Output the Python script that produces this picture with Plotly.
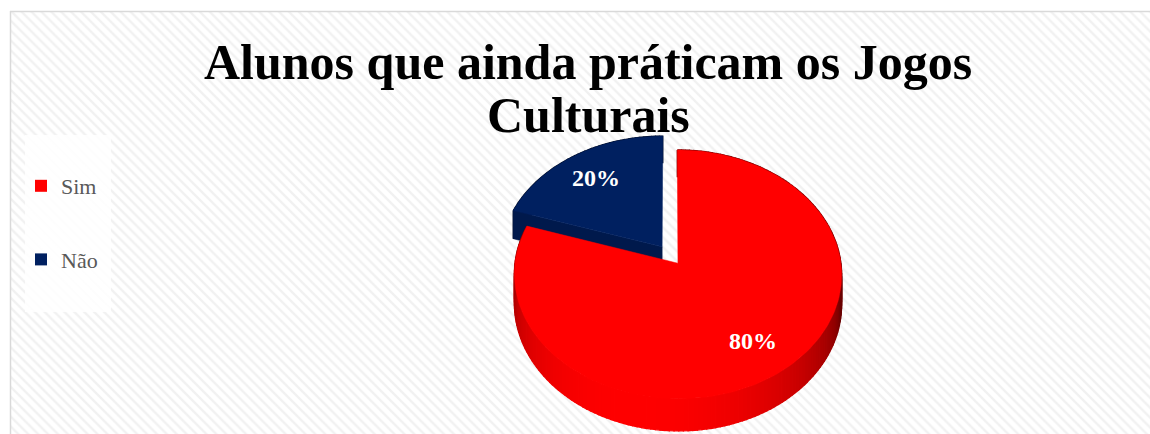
import math
import plotly.graph_objects as go

# ---- data -------------------------------------------------------------
categories = ["Sim", "Não"]
values = [80, 20]
slice_colors = ["#FF0000", "#002060"]
title_lines = ["Alunos que ainda práticam os Jogos", "Culturais"]

# ---- geometry of the tilted (3-D) pie, in pixel units -----------------
W, H = 1150, 434
CX, CY = 670, 255        # projected pie centre
RX, RY = 162, 122        # horizontal / vertical radius of the top face
PERSP = 0.089            # perspective factor (far side smaller)
DEPTH = 29               # thickness of the pie
EXPLODE = 0.083          # slice explosion (fraction of radius)
LABEL_R = 0.74


def project(u, v, z=0.0):
    w = 1 + PERSP * v
    return CX + RX * u / w, CY + (-RY * v + DEPTH * z) / w


def disk(theta, r=1.0, off=(0.0, 0.0)):
    t = math.radians(theta)
    return off[0] + r * math.sin(t), off[1] + r * math.cos(t)


def shade(hex_color, f):
    h = hex_color.lstrip("#")
    r, g, b = (int(h[i:i + 2], 16) for i in (0, 2, 4))
    return f"rgb({int(r * f)},{int(g * f)},{int(b * f)})"


def side_factor(theta):
    c = math.cos(math.radians(theta - 195))
    return 0.42 + 0.58 * max(0.0, c) ** 0.7


fig = go.Figure()

# patterned chart-area background
fig.add_trace(go.Scatter(
    x=[10, W + 20, W + 20, 10, 10], y=[11, 11, H + 20, H + 20, 11],
    mode="none", fill="toself",
    fillcolor="white",
    fillpattern=dict(shape="\\", size=7, solidity=0.35,
                     fgcolor="#e4e4e4", bgcolor="#ffffff"),
    hoverinfo="skip", showlegend=False,
))

total = sum(values)
starts = []
acc = 0
for v in values:
    starts.append(acc / total * 360)
    acc += v

# draw back slice first so the front slice overlaps it
order = sorted(range(len(values)),
               key=lambda i: math.cos(math.radians(starts[i] + values[i] / total * 180)),
               reverse=True)

labels = []
for i in order:
    a0 = starts[i]
    a1 = a0 + values[i] / total * 360
    mid = (a0 + a1) / 2
    off = disk(mid, EXPLODE)
    col = slice_colors[i]
    n = max(8, int((a1 - a0) / 1.5))
    angs = [a0 + (a1 - a0) * k / n for k in range(n + 1)]

    # outer curved side, drawn in shaded bands
    for k in range(n):
        t0, t1 = angs[k], angs[k + 1]
        c = shade(col, side_factor((t0 + t1) / 2))
        p = [project(*disk(t0, 1, off), 0), project(*disk(t1, 1, off), 0),
             project(*disk(t1, 1, off), 1), project(*disk(t0, 1, off), 1)]
        p.append(p[0])
        fig.add_trace(go.Scatter(
            x=[q[0] for q in p], y=[q[1] for q in p], mode="lines",
            line=dict(width=1.3, color=c), fill="toself", fillcolor=c,
            hoverinfo="skip", showlegend=False))

    # radial cut faces that face the viewer
    for edge, normal in ((a0, a0 - 90), (a1, a1 + 90)):
        if math.cos(math.radians(normal)) < -0.2:
            cen = off
            out = disk(edge, 1, off)
            p = [project(*cen, 0), project(*out, 0), project(*out, 1), project(*cen, 1)]
            p.append(p[0])
            fig.add_trace(go.Scatter(
                x=[q[0] for q in p], y=[q[1] for q in p], mode="lines",
                line=dict(width=0.6, color=shade(col, 0.8)),
                fill="toself", fillcolor=shade(col, 0.8),
                hoverinfo="skip", showlegend=False))

    # top face
    top = [project(*off, 0)] + [project(*disk(t, 1, off), 0) for t in
                                [a0 + (a1 - a0) * k / 180 for k in range(181)]]
    top.append(top[0])
    fig.add_trace(go.Scatter(
        x=[q[0] for q in top], y=[q[1] for q in top], mode="lines",
        line=dict(width=0.5, color=col), fill="toself", fillcolor=col,
        hoverinfo="skip", showlegend=False))

    lx, ly = project(*disk(mid, LABEL_R, off), 0)
    labels.append((lx, ly, f"{values[i] / total * 100:.0f}%"))

for lx, ly, txt in labels:
    fig.add_annotation(x=lx, y=ly, xref="x", yref="y", text=f"<b>{txt}</b>",
                       showarrow=False,
                       font=dict(family="Liberation Serif", size=24, color="white"),
                       xanchor="center", yanchor="middle")

# legend entries
for i, name in enumerate(categories):
    fig.add_trace(go.Scatter(
        x=[None], y=[None], mode="markers", name=name,
        marker=dict(symbol="square", size=12, color=slice_colors[i]),
        legendgroup=name, showlegend=True))

# title (two lines)
fig.add_annotation(x=588, y=62, xref="x", yref="y", text=f"<b>{title_lines[0]}</b>",
                   showarrow=False, xanchor="center", yanchor="middle",
                   font=dict(family="Liberation Serif", size=50, color="black"))
fig.add_annotation(x=588, y=115, xref="x", yref="y", text=f"<b>{title_lines[1]}</b>",
                   showarrow=False, xanchor="center", yanchor="middle",
                   font=dict(family="Liberation Serif", size=50, color="black"))

fig.update_layout(
    width=W, height=H,
    margin=dict(l=0, r=0, t=0, b=0),
    paper_bgcolor="white", plot_bgcolor="white",
    xaxis=dict(range=[0, W], visible=False, fixedrange=True),
    yaxis=dict(range=[H, 0], visible=False, fixedrange=True),
    showlegend=True,
    legend=dict(x=21 / W, y=1 - 165 / H, xanchor="left", yanchor="top",
                bgcolor="rgba(0,0,0,0)", tracegroupgap=42,
                font=dict(family="Liberation Serif", size=22, color="#595959")),
    shapes=[
        dict(type="rect", xref="x", yref="y", x0=25, x1=111, y0=135, y1=312,
             fillcolor="rgba(255,255,255,0.85)", line=dict(width=0), layer="above"),
        # chart-area border: only the left and top edges fall inside the canvas
        dict(type="line", xref="x", yref="y", x0=10.5, x1=10.5, y0=11, y1=H + 20,
             line=dict(width=1.5, color="#d9d9d9"), layer="above"),
        dict(type="line", xref="x", yref="y", x0=10, x1=W + 20, y0=11.5, y1=11.5,
             line=dict(width=1.5, color="#d9d9d9"), layer="above"),
    ],
)

fig.write_html("out.html", config={"displayModeBar": False})
